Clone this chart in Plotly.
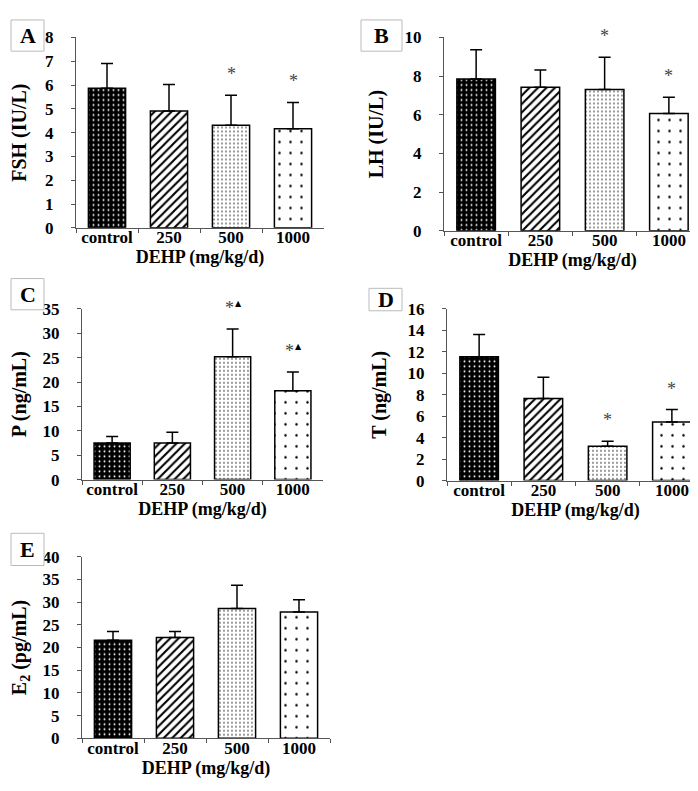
import plotly.graph_objects as go

W, H = 698, 791

categories = ["control", "250", "500", "1000"]

fsh_mean = [5.87, 4.91, 4.31, 4.16]
fsh_sd = [1.04, 1.11, 1.26, 1.11]
fsh_sig = ["", "", "*", "*"]

lh_mean = [7.85, 7.43, 7.31, 6.07]
lh_sd = [1.51, 0.89, 1.67, 0.84]
lh_sig = ["", "", "*", "*"]

p_mean = [7.52, 7.52, 25.2, 18.2]
p_sd = [1.34, 2.21, 5.66, 3.86]
p_sig = ["", "", "*▲", "*▲"]

t_mean = [11.54, 7.65, 3.19, 5.46]
t_sd = [2.06, 1.97, 0.48, 1.16]
t_sig = ["", "", "*", "*"]

e2_mean = [21.6, 22.2, 28.6, 27.8]
e2_sd = [1.9, 1.3, 5.1, 2.7]
e2_sig = ["", "", "", ""]

panels = [
    dict(letter="A", mean=fsh_mean, sd=fsh_sd, sig=fsh_sig, ymax=8, dtick=1,
         ytitle="FSH (IU/L)", xpx=(68, 316), ypx=(21, 216), box=(3, 3, 36, 35), xst=0),
    dict(letter="B", mean=lh_mean, sd=lh_sd, sig=lh_sig, ymax=10, dtick=2,
         ytitle="LH (IU/L)", xpx=(436, 693), ypx=(21, 219), box=(353, 3, 394, 35), xst=0),
    dict(letter="C", mean=p_mean, sd=p_sd, sig=p_sig, ymax=35, dtick=5,
         ytitle="P (ng/mL)", xpx=(74, 315), ypx=(299, 474), box=(3, 268, 36, 300), xst=0),
    dict(letter="D", mean=t_mean, sd=t_sd, sig=t_sig, ymax=16, dtick=2,
         ytitle="T (ng/mL)", xpx=(439, 696), ypx=(299, 475), box=(361, 278, 394, 301), xst=0),
    dict(letter="E", mean=e2_mean, sd=e2_sd, sig=e2_sig, ymax=40, dtick=5,
         ytitle="E<sub>2</sub> (pg/mL)", xpx=(74, 322), ypx=(553, 739), box=(3, 529, 36, 562), xst=4),
]

FONT = "Liberation Serif"
pat_shape = [".", "/", ".", "."]
pat_bg = ["black", "white", "white", "white"]
pat_fg = ["white", "black", "black", "black"]
pat_size = [5, 6, 4, 11]
pat_sol = [0.12, 0.35, 0.1, 0.04]

fig = go.Figure()
layout = dict(
    width=W, height=H, margin=dict(l=0, r=0, t=0, b=0),
    paper_bgcolor="white", plot_bgcolor="white", showlegend=False,
    font=dict(family=FONT, color="black"),
)
annotations = []
shapes = []

for i, p in enumerate(panels):
    n = "" if i == 0 else str(i + 1)
    xa, ya = "x" + n, "y" + n
    fig.add_trace(go.Bar(
        x=categories, y=p["mean"], xaxis=xa, yaxis=ya, width=0.6,
        marker=dict(
            color="white",
            line=dict(color="black", width=1.5),
            pattern=dict(shape=pat_shape, bgcolor=pat_bg, fgcolor=pat_fg,
                         size=pat_size, solidity=pat_sol, fillmode="replace"),
        ),
        error_y=dict(type="data", symmetric=False, array=p["sd"],
                     arrayminus=[0] * 4, color="black", thickness=1.5, width=6),
        hoverinfo="skip",
    ))
    x0, x1 = p["xpx"]
    y0, y1 = p["ypx"]
    yt = list(range(0, p["ymax"] + 1, p["dtick"]))
    layout["xaxis" + n] = dict(
        domain=[x0 / W, x1 / W], anchor=ya, type="category",
        categoryorder="array", categoryarray=categories,
        tickvals=categories, ticktext=["<b>" + c + "</b>" for c in categories],
        range=[-0.5, 3.5], showline=True, linecolor="#555", linewidth=1,
        ticks="outside", tickson="boundaries", ticklen=4, tickcolor="#555",
        ticklabelstandoff=-6, tickangle=0,
        tickfont=dict(family=FONT, size=17, color="black", weight="bold"),
        title=dict(text="<b>DEHP (mg/kg/d)</b>", standoff=p["xst"],
                   font=dict(family=FONT, size=18, color="black")),
        showgrid=False, zeroline=False, fixedrange=True,
    )
    layout["yaxis" + n] = dict(
        domain=[1 - y1 / H, 1 - y0 / H], anchor=xa,
        range=[0, p["ymax"]], tickvals=yt, ticktext=["<b>%d</b>" % v for v in yt],
        showline=True, linecolor="#555", linewidth=1,
        ticks="outside", ticklen=4, tickcolor="#555", ticklabelstandoff=14,
        tickfont=dict(family=FONT, size=17, color="black", weight="bold"),
        title=dict(text="<b>" + p["ytitle"] + "</b>", standoff=15,
                   font=dict(family=FONT, size=20, color="black")),
        showgrid=False, zeroline=False, fixedrange=True,
    )
    for j, (m, s, sig) in enumerate(zip(p["mean"], p["sd"], p["sig"])):
        if sig:
            tri = "▲" in sig
            annotations.append(dict(
                x=j, y=m + s, xref=xa, yref=ya, text="*", showarrow=False,
                xanchor="center", yanchor="bottom", yshift=9,
                xshift=-3 if tri else 0,
                font=dict(family=FONT, size=18, color="#444"),
            ))
            if tri:
                annotations.append(dict(
                    x=j, y=m + s, xref=xa, yref=ya, text="▲", showarrow=False,
                    xanchor="center", yanchor="bottom", yshift=19, xshift=6,
                    font=dict(family="DejaVu Sans", size=8, color="black"),
                ))
    bx0, by0, bx1, by1 = p["box"]
    shapes.append(dict(type="rect", xref="paper", yref="paper",
                       x0=bx0 / W, x1=bx1 / W, y0=1 - by1 / H, y1=1 - by0 / H,
                       line=dict(color="#bbbbbb", width=1), fillcolor="white"))
    annotations.append(dict(
        x=(bx0 + bx1) / 2 / W, y=1 - (by0 + by1) / 2 / H, xref="paper", yref="paper",
        text="<b>" + p["letter"] + "</b>", showarrow=False,
        xanchor="center", yanchor="middle",
        font=dict(family=FONT, size=22, color="black"),
    ))

layout["annotations"] = annotations
layout["shapes"] = shapes
fig.update_layout(**layout)
fig.write_html("out.html")
